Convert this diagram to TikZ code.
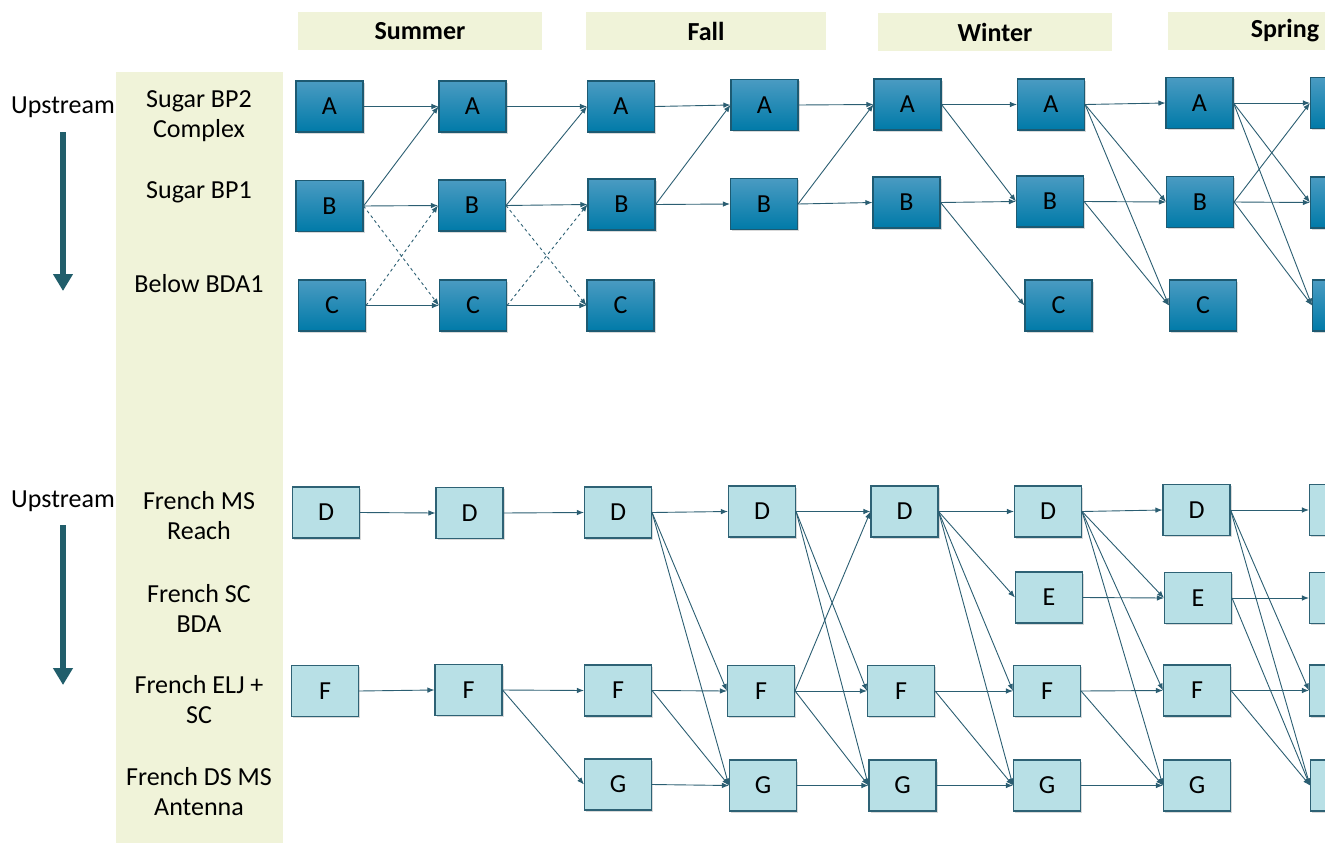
\documentclass[tikz,border=0pt]{standalone}
\usepackage{fontspec}
\setmainfont{Carlito}
\usetikzlibrary{arrows.meta,shadows}
\definecolor{hdr}{HTML}{F0F3D9}
\definecolor{dkfillT}{HTML}{4A9BC2}
\definecolor{dkfillB}{HTML}{007AA8}
\definecolor{dkdraw}{HTML}{1D5A72}
\definecolor{ltfill}{HTML}{B8E0E6}
\definecolor{ltdraw}{HTML}{2E6275}
\definecolor{edgecol}{HTML}{2B5E72}
\definecolor{bigarrow}{HTML}{215E6B}
\begin{document}
\begin{tikzpicture}[x=1pt,y=-1pt,
  every node/.style={font=\fontsize{26}{30}\selectfont},
  box/.style={minimum width=67pt, minimum height=51pt, inner sep=0pt, line width=1.1pt,
    drop shadow={opacity=0.3,shadow xshift=1.5pt,shadow yshift=-1.5pt}},
  topbox/.style={box, draw=dkdraw, top color=dkfillT, bottom color=dkfillB},
  botbox/.style={box, draw=ltdraw, fill=ltfill},
  hdrbox/.style={fill=hdr, minimum height=38pt, inner sep=0pt, font=\fontsize{26}{30}\selectfont\bfseries},
  rowlabel/.style={align=center, inner sep=0pt},
  conn/.style={draw=edgecol, line width=0.9pt, -{Latex[length=7pt,width=5.5pt]}},
  dconn/.style={conn, dash pattern=on 3pt off 3pt},
  bigarr/.style={draw=bigarrow, line width=6pt, -{Triangle[length=17pt,width=19pt]}}
]
\useasboundingbox (0,0) rectangle (1325,843);
\clip (0,0) rectangle (1325,843);

% headers
\node[hdrbox, minimum width=244pt] (summer) at (420,31) {Summer};
\node[hdrbox, minimum width=240pt] (fall) at (706,31) {Fall};
\node[hdrbox, minimum width=234pt] (winter) at (995,32) {Winter};
\node[hdrbox, minimum width=234pt] (spring) at (1285,31) {Spring};

% left column
\fill[hdr] (116,72) rectangle (283,843);
\node[rowlabel] (l1) at (199,116) {Sugar BP2\\Complex};
\node[rowlabel] (l2) at (199,192) {Sugar BP1};
\node[rowlabel] (l3) at (199,284) {Below BDA1};
\node[rowlabel] (l4) at (199,516) {French MS\\Reach};
\node[rowlabel] (l5) at (199,608) {French SC\\BDA};
\node[rowlabel] (l6) at (199,700) {French ELJ +\\SC};
\node[rowlabel] (l7) at (199,792) {French DS MS\\Antenna};

% upstream arrows
\node (up1) at (63,107) {Upstream};
\node (up2) at (63,501) {Upstream};
\coordinate (u1a) at (63,132);
\coordinate (u1b) at (63,291);
\coordinate (u2a) at (63,525);
\coordinate (u2b) at (63,685);
\draw[bigarr] (u1a) -- (u1b);
\draw[bigarr] (u2a) -- (u2b);

% top boxes
\node[topbox] (A1) at (329.5,106.5) {A};
\node[topbox] (B1) at (329.5,206) {B};
\node[topbox] (C1) at (332,305.5) {C};
\node[topbox] (A2) at (472.5,106.5) {A};
\node[topbox] (B2) at (472,205.5) {B};
\node[topbox] (C2) at (473,305.5) {C};
\node[topbox] (A3) at (621,106.5) {A};
\node[topbox] (B3) at (621.5,204.5) {B};
\node[topbox] (C3) at (620.5,305.5) {C};
\node[topbox] (A4) at (764.5,105) {A};
\node[topbox] (B4) at (764,204) {B};
\node[topbox] (A5) at (907.5,104.5) {A};
\node[topbox] (B5) at (906.5,202.5) {B};
\node[topbox] (A6) at (1051,104.5) {A};
\node[topbox] (B6) at (1050,201.5) {B};
\node[topbox] (C6) at (1058.5,305.5) {C};
\node[topbox] (A7) at (1199.5,103) {A};
\node[topbox] (B7) at (1200,202) {B};
\node[topbox] (C7) at (1203,305.5) {C};
\node[topbox] (A8) at (1344,103) {A};
\node[topbox] (B8) at (1344,202.5) {B};
\node[topbox] (C8) at (1346,305.5) {C};

% bottom boxes
\node[botbox] (D1) at (326,512.5) {D};
\node[botbox] (F1) at (325,691) {F};
\node[botbox] (D2) at (469.5,513) {D};
\node[botbox] (F2) at (468.5,690) {F};
\node[botbox] (D3) at (618,512.5) {D};
\node[botbox] (F3) at (618,690.5) {F};
\node[botbox] (G3) at (618,784.5) {G};
\node[botbox] (D4) at (762,511.5) {D};
\node[botbox] (F4) at (761,691) {F};
\node[botbox] (G4) at (763,785.5) {G};
\node[botbox] (D5) at (904.5,511.5) {D};
\node[botbox] (F5) at (901,691) {F};
\node[botbox] (G5) at (902.5,785.5) {G};
\node[botbox] (D6) at (1048,511.5) {D};
\node[botbox] (E6) at (1049,597.5) {E};
\node[botbox] (F6) at (1047,691) {F};
\node[botbox] (G6) at (1047,785.5) {G};
\node[botbox] (D7) at (1196.5,510) {D};
\node[botbox] (E7) at (1198,598) {E};
\node[botbox] (F7) at (1197,690.5) {F};
\node[botbox] (G7) at (1197,785.5) {G};
\node[botbox] (D8) at (1343,510) {D};
\node[botbox] (E8) at (1343,598) {E};
\node[botbox] (F8) at (1343,690.5) {F};
\node[botbox] (G8) at (1344,785.5) {G};

% solid connectors
\foreach \s/\t in {A1/A2,B1/A2,B1/B2,C1/C2,A2/A3,B2/A3,B2/B3,C2/C3,A3/A4,B3/A4,B3/B4,
  A4/A5,B4/A5,B4/B5,A5/A6,A5/B6,B5/B6,B5/C6,A6/A7,A6/B7,A6/C7,B6/B7,B6/C7,
  A7/A8,A7/B8,A7/C8,B7/A8,B7/B8,B7/C8,
  D1/D2,F1/F2,D2/D3,F2/F3,F2/G3,D3/D4,D3/F4,D3/G4,F3/F4,F3/G4,G3/G4,
  D4/D5,D4/F5,D4/G5,F4/D5,F4/F5,F4/G5,G4/G5,
  D5/D6,D5/E6,D5/F6,D5/G6,F5/F6,F5/G6,G5/G6,
  D6/D7,D6/E7,D6/F7,D6/G7,E6/E7,F6/F7,F6/G7,G6/G7,
  D7/D8,D7/F8,D7/G8,E7/E8,E7/G8,F7/F8,F7/G8}
  \draw[conn] (\s.east) -- (\t.west);
% dashed connectors
\foreach \s/\t in {B1/C2,C1/B2,B2/C3,C2/B3}
  \draw[dconn] (\s.east) -- (\t.west);
\end{tikzpicture}
\end{document}
